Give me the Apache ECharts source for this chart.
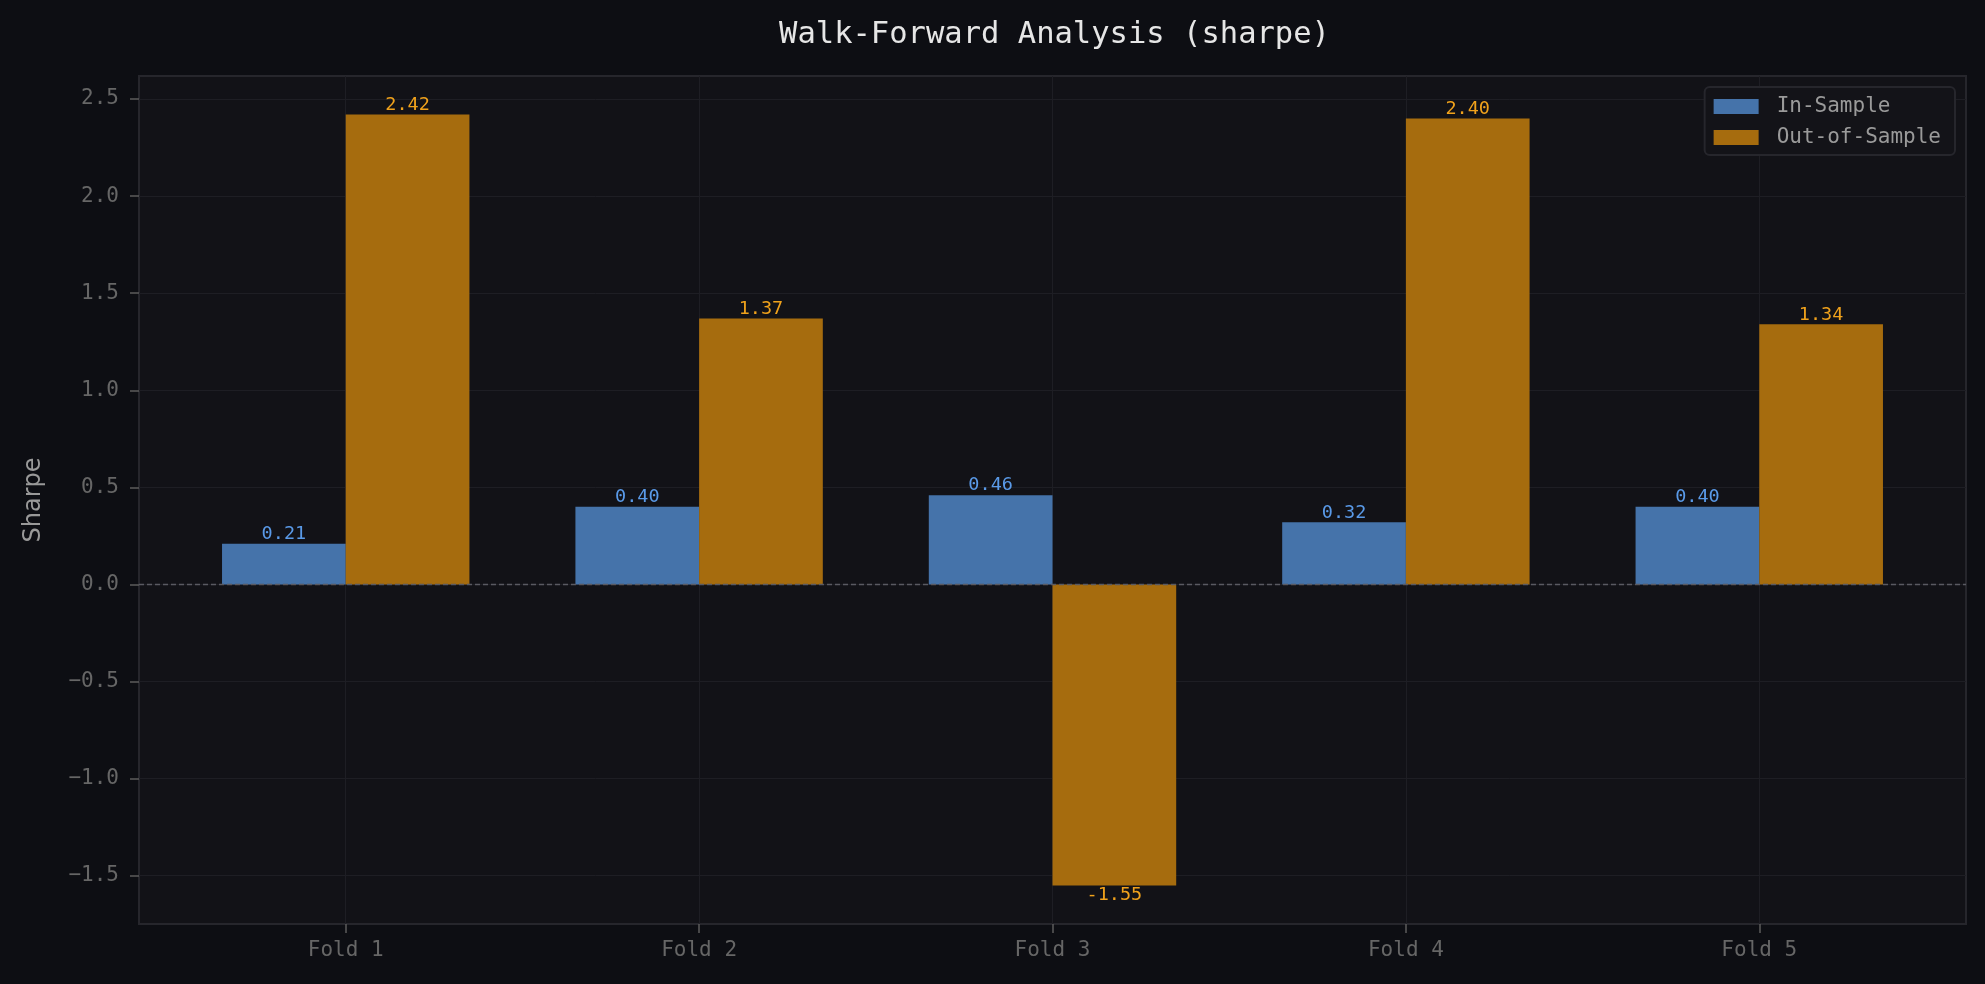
<!DOCTYPE html>
<html>
<head>
<meta charset="utf-8">
<title>Walk-Forward Analysis</title>
<script src="https://cdn.jsdelivr.net/npm/echarts@6/dist/echarts.min.js"></script>
<style>
  html, body { margin: 0; padding: 0; background: #0d0e13; }
  #chart { width: 1985px; height: 984px; }
</style>
</head>
<body>
<div id="chart"></div>
<script>
// 数据
const folds = ['Fold 1', 'Fold 2', 'Fold 3', 'Fold 4', 'Fold 5'];
const inSample = [0.21, 0.40, 0.46, 0.32, 0.40];
const outSample = [2.42, 1.37, -1.55, 2.40, 1.34];
const yTicks = [-1.5, -1.0, -0.5, 0.0, 0.5, 1.0, 1.5, 2.0, 2.5];

const mono = 'DejaVu Sans Mono';
const foldIdx = folds.map((f, i) => i);

// 绘图区位置（标题居中于绘图区）
const gridLeft = 139, gridRight = 19;
const plotCenter = gridLeft + (1985 - gridLeft - gridRight) / 2;

// 柱子数据：负值标签放在下方
const toItems = (vals) => vals.map((v, i) => ({
  value: [i, v],
  label: { position: v < 0 ? 'bottom' : 'top' }
}));

const chart = echarts.init(document.getElementById('chart'));
chart.setOption({
  backgroundColor: '#0d0e13',
  animation: false,
  title: {
    text: 'Walk-Forward Analysis (sharpe)',
    left: plotCenter - 3,
    textAlign: 'center',
    top: 15,
    textStyle: { color: '#e6e6e6', fontFamily: mono, fontSize: 30.5, fontWeight: 'normal' }
  },
  legend: {
    orient: 'vertical',
    right: 30,
    top: 87,
    icon: 'rect',
    itemWidth: 45,
    itemHeight: 15,
    itemGap: 10,
    padding: [9, 14, 7, 9],
    backgroundColor: '#131318',
    borderColor: '#26262c',
    borderWidth: 2,
    borderRadius: 5,
    textStyle: { color: '#9a9a9a', fontFamily: mono, fontSize: 21, padding: [0, 0, 0, 13] },
    data: ['In-Sample', 'Out-of-Sample']
  },
  grid: {
    left: gridLeft, right: gridRight, top: 76, bottom: 60,
    show: true,
    backgroundColor: '#121217',
    borderColor: '#26262c',
    borderWidth: 2,
    outerBoundsMode: 'none'
  },
  xAxis: {
    type: 'value',
    min: -0.585,
    max: 4.585,
    axisLine: { show: false, onZero: false },
    axisTick: { show: true, length: 9, lineStyle: { color: '#5c5c5c', width: 1.5 }, customValues: foldIdx },
    axisLabel: {
      customValues: foldIdx,
      color: '#666',
      fontFamily: mono,
      fontSize: 21,
      margin: 16,
      formatter: (v) => folds[Math.round(v)]
    },
    splitLine: { show: true, lineStyle: { color: '#1e1e24', width: 1 } }
  },
  yAxis: {
    type: 'value',
    min: -1.7485,
    max: 2.6185,
    name: 'Sharpe',
    nameLocation: 'middle',
    nameGap: 93,
    nameTextStyle: { color: '#999', fontFamily: 'DejaVu Sans', fontSize: 24 },
    axisLine: { show: false, onZero: false },
    axisTick: { show: true, length: 9, lineStyle: { color: '#5c5c5c', width: 1.5 }, customValues: yTicks },
    axisLabel: {
      customValues: yTicks,
      color: '#666',
      fontFamily: mono,
      fontSize: 21,
      margin: 20,
      formatter: (v) => v.toFixed(1).replace('-', '\u2212')
    },
    splitLine: { show: true, lineStyle: { color: '#1e1e24', width: 1 } }
  },
  series: [
    {
      name: 'In-Sample',
      type: 'bar',
      barWidth: 123.7,
      barGap: '0%',
      itemStyle: { color: '#4573aa' },
      label: {
        show: true,
        distance: 0,
        color: '#5a9ae8',
        fontFamily: mono,
        fontSize: 18.5,
        formatter: (p) => p.value[1].toFixed(2)
      },
      data: toItems(inSample),
      markLine: {
        silent: true,
        symbol: 'none',
        label: { show: false },
        lineStyle: { color: '#5a5a62', type: [5, 3], width: 1.3 },
        data: [{ yAxis: 0 }]
      }
    },
    {
      name: 'Out-of-Sample',
      type: 'bar',
      barWidth: 123.7,
      barGap: '0%',
      itemStyle: { color: '#a66c0e' },
      label: {
        show: true,
        distance: 0,
        color: '#f0a21c',
        fontFamily: mono,
        fontSize: 18.5,
        formatter: (p) => p.value[1].toFixed(2)
      },
      data: toItems(outSample)
    }
  ]
});
//响应式
window.addEventListener('resize', () => { chart.resize(); });
</script>
</body>
</html>
